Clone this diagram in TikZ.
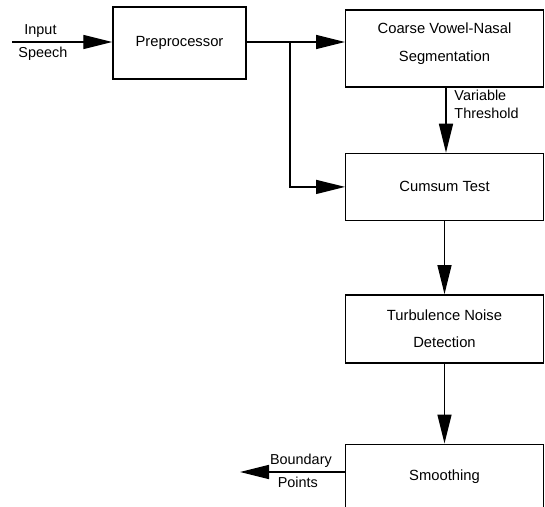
\documentclass[tikz,border=0pt]{standalone}
\usepackage{fontspec}
\setsansfont{Liberation Sans}
\usetikzlibrary{positioning,arrows.meta}

\begin{document}
\begin{tikzpicture}[
  line width=0.8pt,
  blk/.style={draw,line width=0.8pt,minimum width=3.95cm,font=\sffamily\fontsize{8.4}{10.2}\selectfont,align=center},
  lbl/.style={font=\sffamily\fontsize{8.2}{10.2}\selectfont,inner sep=1pt},
  arr/.style={-{Triangle[length=5.8mm,width=2.8mm]}}
]
\useasboundingbox (0,0) rectangle (10.9,-10.12);
\clip (0,0) rectangle (10.9,-10.12);
\node[blk,minimum width=2.66cm,minimum height=1.44cm] (pre) at (3.59,-0.86) {Preprocessor};
\node[blk,minimum height=1.54cm,text depth=0.25cm] (cvn) at (8.89,-0.97) {Coarse Vowel-Nasal\\[5.5pt]Segmentation};
\node[blk,minimum height=1.34cm,below=1.3cm of cvn] (cst) {Cumsum Test};
\node[blk,minimum height=1.36cm,below=1.46cm of cst] (tnd) {Turbulence Noise\\[5.5pt]Detection};
\node[blk,minimum height=1.44cm,text depth=0.22cm,below=1.6cm of tnd] (smo) {Smoothing};
\coordinate (in) at (0.24,-0.84);
\coordinate (jn) at (5.8,-0.84);
\coordinate (out) at (4.8,-9.44);
% input and preprocessor output
\draw[arr] (in) -- (in -| pre.west);
\node[lbl,anchor=south west] at ([xshift=0.2cm,yshift=0.04cm]in) {Input};
\node[lbl,anchor=north west] at ([xshift=0.08cm,yshift=-0.06cm]in) {Speech};
\draw[arr] (pre.east |- in) -- (in -| cvn.west);
\draw[arr] (jn) |- (cst.west);
% chain downwards
\draw[arr] ([xshift=0.03cm]cvn.south) -- node[lbl,right,pos=0.26,xshift=0.12cm,align=left]{Variable\\Threshold} ([xshift=0.03cm]cvn.south |- cst.north);
\foreach \a/\b in {cst/tnd,tnd/smo} \draw[arr] (\a) -- (\b);
\draw[arr] (smo.west |- out) -- node[lbl,above,pos=0.42,yshift=0.05cm]{Boundary} node[lbl,below,pos=0.45,yshift=-0.05cm]{Points} (out);
\end{tikzpicture}
\end{document}
